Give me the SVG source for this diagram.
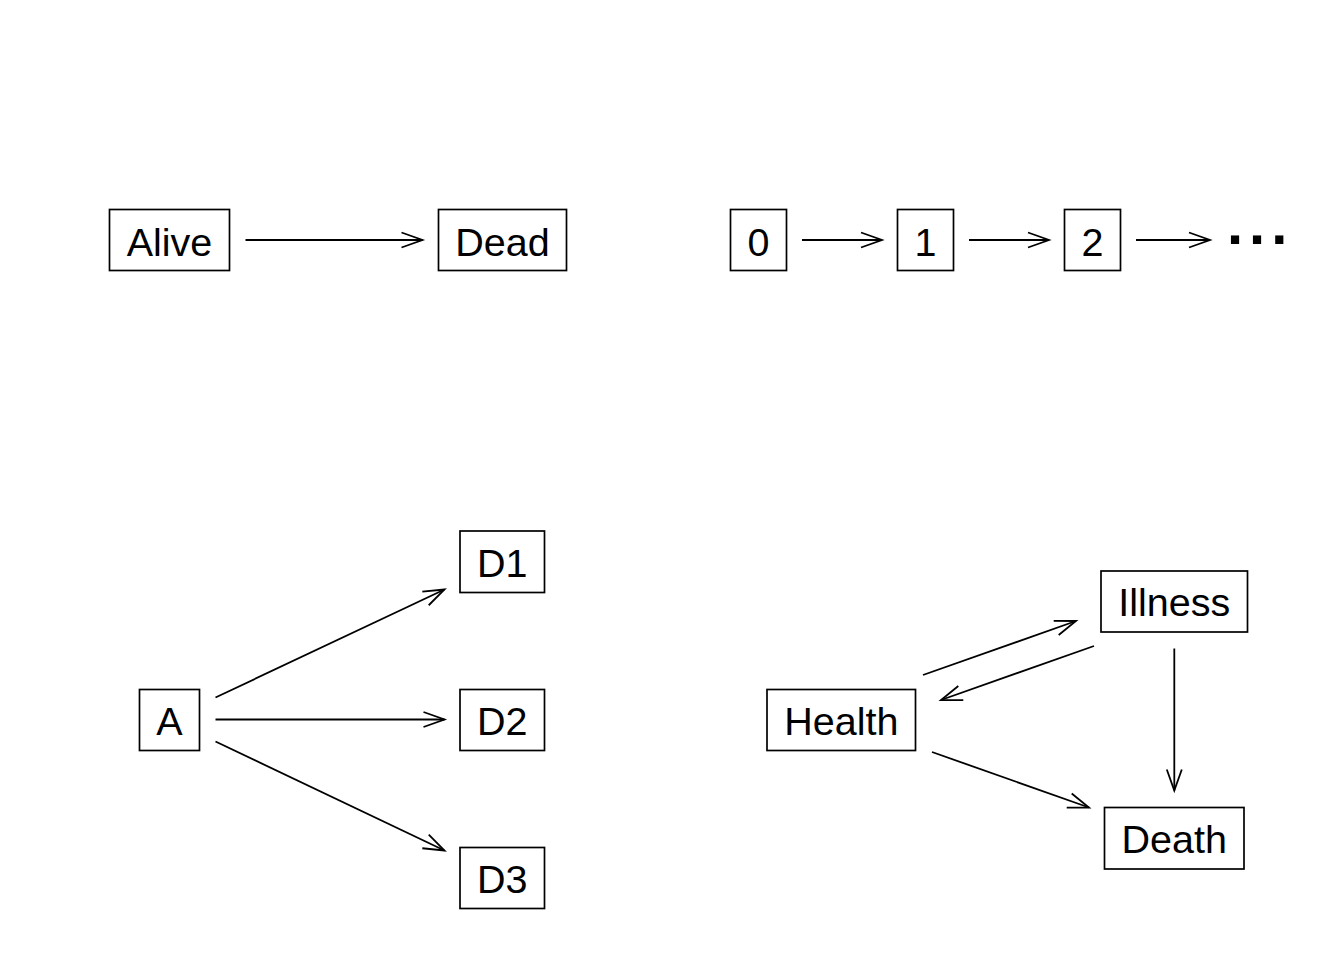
<svg xmlns="http://www.w3.org/2000/svg" width="1344" height="960" viewBox="0 0 1344 960">
<style>
.box{fill:#fff;stroke:#000;stroke-width:1.7}
.lbl{font-family:"Liberation Sans",Arial,sans-serif;font-size:39.5px;text-anchor:middle;fill:#000}
.edge{stroke:#000;stroke-width:1.8;fill:none;marker-end:url(#ah)}
</style>
<defs>
<marker id="ah" markerUnits="userSpaceOnUse" orient="auto" overflow="visible" refX="0" refY="0" markerWidth="1" markerHeight="1">
<path d="M-21,-7.5 L0,0 L-21,7.5" fill="none" stroke="#000" stroke-width="1.8"/>
</marker>
</defs>
<rect width="1344" height="960" fill="#fff"/>
<g id="connectors">
<line class="edge" x1="245.5" y1="240" x2="422.5" y2="240"/>
<line class="edge" x1="802" y1="240" x2="882" y2="240"/>
<line class="edge" x1="969" y1="240" x2="1049" y2="240"/>
<line class="edge" x1="1136" y1="240" x2="1210" y2="240"/>
<line class="edge" x1="215.5" y1="697.5" x2="444.5" y2="589.5"/>
<line class="edge" x1="215.5" y1="719.5" x2="444.5" y2="719.5"/>
<line class="edge" x1="215.5" y1="741.5" x2="444.5" y2="850.5"/>
<line class="edge" x1="923" y1="675" x2="1076" y2="621"/>
<line class="edge" x1="1094" y1="646" x2="941" y2="700"/>
<line class="edge" x1="1174.3" y1="648.5" x2="1174.3" y2="790.5"/>
<line class="edge" x1="932" y1="752" x2="1089" y2="807.5"/>
</g>
<g id="node-alive"><rect class="box" x="109.5" y="209.5" width="120" height="61"/><text class="lbl" x="169.5" y="255.5">Alive</text></g>
<g id="node-dead"><rect class="box" x="438.5" y="209.5" width="128" height="61"/><text class="lbl" x="502.5" y="255.5">Dead</text></g>
<g id="node-0"><rect class="box" x="730.5" y="209.5" width="56" height="61"/><text class="lbl" x="758.5" y="255.5">0</text></g>
<g id="node-1"><rect class="box" x="897.5" y="209.5" width="56" height="61"/><text class="lbl" x="925.5" y="255.5">1</text></g>
<g id="node-2"><rect class="box" x="1064.5" y="209.5" width="56" height="61"/><text class="lbl" x="1092.5" y="255.5">2</text></g>
<g id="node-dots"><text x="1227" y="244" style="font-family:'Liberation Sans',Arial,sans-serif;font-size:58px;font-weight:bold;letter-spacing:6px" fill="#000">...</text></g>
<g id="node-A"><rect class="box" x="139.5" y="689.5" width="60" height="61"/><text class="lbl" x="169.5" y="734.5">A</text></g>
<g id="node-D1"><rect class="box" x="460" y="531" width="84.5" height="61.5"/><text class="lbl" x="502.2" y="577">D1</text></g>
<g id="node-D2"><rect class="box" x="460" y="689.5" width="84.5" height="61"/><text class="lbl" x="502.2" y="734.5">D2</text></g>
<g id="node-D3"><rect class="box" x="460" y="847.5" width="84.5" height="61"/><text class="lbl" x="502.2" y="893">D3</text></g>
<g id="node-health"><rect class="box" x="767" y="689.5" width="148.5" height="61"/><text class="lbl" x="841.3" y="734.5">Health</text></g>
<g id="node-illness"><rect class="box" x="1101" y="571" width="146.5" height="61"/><text class="lbl" x="1174.2" y="616">Illness</text></g>
<g id="node-death"><rect class="box" x="1104.5" y="807.5" width="139.5" height="61.5"/><text class="lbl" x="1174.2" y="853">Death</text></g>
</svg>
